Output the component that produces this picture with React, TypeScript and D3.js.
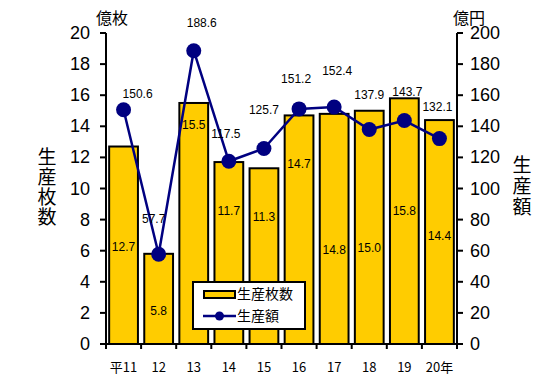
import React from "react";
import * as d3 from "d3";

const categories = ["平11", "12", "13", "14", "15", "16", "17", "18", "19", "20年"];
const sheets = [12.7, 5.8, 15.5, 11.7, 11.3, 14.7, 14.8, 15.0, 15.8, 14.4];
const amount = [150.6, 57.7, 188.6, 117.5, 125.7, 151.2, 152.4, 137.9, 143.7, 132.1];
const leftTicks = [0, 2, 4, 6, 8, 10, 12, 14, 16, 18, 20];
const rightTicks = [0, 20, 40, 60, 80, 100, 120, 140, 160, 180, 200];
// label placement (in left-axis units for bar labels, pixel offsets for line labels)
const barLabelAt = [6.2, 2.1, 14.0, 8.5, 8.1, 11.5, 6.0, 6.1, 8.5, 6.9];
const lineLabelDx = [14, -5, 8, -3, 0, -3, 3, 0, 3, -2];
const lineLabelDy = [-15, -34, -27, -26, -38, -29, -35, -34, -28, -31];

const W = 538, H = 376;
const M = { left: 106, right: 457, top: 33, bottom: 344 };
const NUM = "'Liberation Sans', Arial, sans-serif";
const JP = "'Noto Sans CJK JP', sans-serif";
const BAR = "#FFCC00";
const NAVY = "#000080";

export default function App() {
  const x = d3.scaleBand<string>().domain(categories).range([M.left, M.right]).paddingInner(0.18).paddingOuter(0.09);
  const xb = d3.scaleBand<string>().domain(categories).range([M.left, M.right]);
  const yL = d3.scaleLinear().domain([0, 20]).range([M.bottom, M.top]);
  const yR = d3.scaleLinear().domain([0, 200]).range([M.bottom, M.top]);
  const line = d3.line<number>().x((_, i) => (xb(categories[i]) as number) + xb.bandwidth() / 2).y((d) => yR(d));
  const cx = (i: number) => (xb(categories[i]) as number) + xb.bandwidth() / 2;

  return (
    <svg width={W} height={H} style={{ position: "absolute", left: 0, top: 0, background: "#fff" }}>
      {/* bars */}
      {sheets.map((v, i) => (
        <rect key={"b" + i} x={x(categories[i])} y={yL(v)} width={x.bandwidth()} height={yL(0) - yL(v)}
          fill={BAR} stroke="#000" strokeWidth={2} />
      ))}
      {/* bar labels */}
      {sheets.map((v, i) => (
        <text key={"bl" + i} x={cx(i)} y={yL(barLabelAt[i])} textAnchor="middle" dominantBaseline="middle"
          fontFamily={NUM} fontSize={12} fill="#000">{v.toFixed(1)}</text>
      ))}
      {/* line */}
      <path d={line(amount) as string} fill="none" stroke={NAVY} strokeWidth={2.5} />
      {amount.map((v, i) => (
        <circle key={"p" + i} cx={cx(i)} cy={yR(v)} r={7.5} fill={NAVY} />
      ))}
      {amount.map((v, i) => (
        <text key={"pl" + i} x={cx(i) + lineLabelDx[i]} y={yR(v) + lineLabelDy[i]} textAnchor="middle"
          dominantBaseline="middle" fontFamily={NUM} fontSize={12} fill="#000">{v.toFixed(1)}</text>
      ))}
      {/* left axis */}
      <line x1={M.left} x2={M.left} y1={M.top} y2={M.bottom} stroke="#000" strokeWidth={2} />
      {leftTicks.map((t) => (
        <g key={"lt" + t}>
          <line x1={M.left - 6} x2={M.left} y1={yL(t)} y2={yL(t)} stroke="#000" strokeWidth={2} />
          <text x={90} y={yL(t)} textAnchor="end" dominantBaseline="central" fontFamily={NUM} fontSize={18} fill="#000">{t}</text>
        </g>
      ))}
      {/* right axis */}
      <line x1={M.right} x2={M.right} y1={M.top} y2={M.bottom} stroke="#000" strokeWidth={2} />
      {rightTicks.map((t) => (
        <g key={"rt" + t}>
          <line x1={M.right} x2={M.right + 6} y1={yR(t)} y2={yR(t)} stroke="#000" strokeWidth={2} />
          <text x={470} y={yR(t)} textAnchor="start" dominantBaseline="central" fontFamily={NUM} fontSize={18} fill="#000">{t}</text>
        </g>
      ))}
      {/* bottom axis */}
      <line x1={M.left} x2={M.right} y1={M.bottom} y2={M.bottom} stroke="#000" strokeWidth={2} />
      {categories.map((c, i) => (
        <g key={"c" + i}>
          <line x1={xb(c) as number} x2={xb(c) as number} y1={M.bottom} y2={M.bottom + 5} stroke="#000" strokeWidth={2} />
          <text x={cx(i)} y={368} textAnchor="middle" dominantBaseline="middle" fontFamily={JP} fontSize={13} fill="#000">{c}</text>
        </g>
      ))}
      <line x1={M.right} x2={M.right} y1={M.bottom} y2={M.bottom + 5} stroke="#000" strokeWidth={2} />
      {/* axis titles */}
      <text x={112} y={20} textAnchor="middle" dominantBaseline="middle" fontFamily={JP} fontSize={16} fill="#000">億枚</text>
      <text x={469} y={20} textAnchor="middle" dominantBaseline="middle" fontFamily={JP} fontSize={16} fill="#000">億円</text>
      <text x={47} y={147.5} style={{ writingMode: "vertical-rl" } as any} letterSpacing={1}
        fontFamily={JP} fontSize={19} fill="#000">生産枚数</text>
      <text x={522} y={155.5} style={{ writingMode: "vertical-rl" } as any} letterSpacing={2}
        fontFamily={JP} fontSize={19} fill="#000">生産額</text>
      {/* legend */}
      <g>
        <rect x={193} y={282} width={112} height={47} fill="#fff" stroke="#000" strokeWidth={2} />
        <rect x={204} y={291} width={31} height={7} fill={BAR} stroke="#000" strokeWidth={2} />
        <text x={237} y={295} dominantBaseline="middle" fontFamily={JP} fontSize={14} fill="#000">生産枚数</text>
        <line x1={203} x2={236} y1={316} y2={316} stroke={NAVY} strokeWidth={2.5} />
        <circle cx={219.5} cy={316} r={4.5} fill={NAVY} />
        <text x={237} y={317} dominantBaseline="middle" fontFamily={JP} fontSize={14} fill="#000">生産額</text>
      </g>
    </svg>
  );
}
